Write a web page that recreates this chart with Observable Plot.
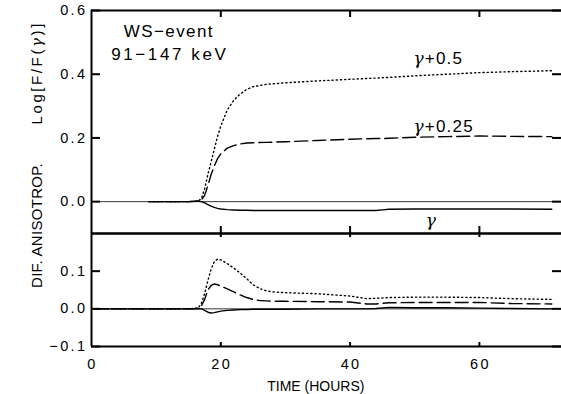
<!DOCTYPE html>
<html><head><meta charset="utf-8">
<script src="https://cdn.jsdelivr.net/npm/d3@7"></script>
<script src="https://cdn.jsdelivr.net/npm/@observablehq/plot@0.6"></script>
<style>
html,body{margin:0;padding:0;background:#fff;}
#wrap{position:relative;width:561px;height:394px;overflow:hidden;background:#fff;}
#wrap svg{position:absolute;left:0;top:0;}
</style></head><body><div id="wrap"></div>
<script>
// ---- data ----
const hoursTop     = [8.9, 12, 15, 16.5, 17, 17.5, 18, 18.5, 19, 19.5, 20, 21, 22, 23, 24, 25, 27, 30, 35, 40, 44, 45, 46, 50, 55, 60, 65, 71.2];
const fluxPlus050  = [0, 0, 0, 0.002, 0.01, 0.04, 0.085, 0.125, 0.165, 0.205, 0.237, 0.288, 0.318, 0.338, 0.352, 0.361, 0.368, 0.373, 0.379, 0.384, 0.388, 0.389, 0.39, 0.395, 0.40, 0.405, 0.408, 0.411];
const fluxPlus025  = [0, 0, 0, 0.001, 0.005, 0.02, 0.05, 0.085, 0.112, 0.135, 0.15, 0.168, 0.176, 0.181, 0.184, 0.185, 0.186, 0.188, 0.192, 0.196, 0.198, 0.198, 0.199, 0.202, 0.204, 0.206, 0.205, 0.204];
const fluxGamma    = [0, 0, 0, 0.002, 0, -0.004, -0.009, -0.014, -0.018, -0.021, -0.023, -0.025, -0.026, -0.027, -0.027, -0.028, -0.028, -0.028, -0.028, -0.028, -0.028, -0.026, -0.024, -0.023, -0.023, -0.023, -0.023, -0.024];

const hoursBottom  = [0.5, 5, 10, 15, 16.5, 17, 17.5, 18, 18.5, 19, 19.5, 20, 21, 22, 23, 24, 25, 26, 27, 28, 30, 35, 40, 42.6, 44, 46, 50, 55, 60, 65, 71.2];
const anisPlus050  = [0, 0, 0, 0, 0.002, 0.015, 0.04, 0.075, 0.105, 0.125, 0.132, 0.13, 0.12, 0.108, 0.095, 0.08, 0.064, 0.054, 0.048, 0.045, 0.043, 0.04, 0.034, 0.027, 0.028, 0.03, 0.031, 0.031, 0.03, 0.027, 0.025];
const anisPlus025  = [0, 0, 0, 0, 0.001, 0.008, 0.025, 0.05, 0.062, 0.066, 0.064, 0.06, 0.053, 0.045, 0.037, 0.03, 0.025, 0.022, 0.021, 0.02, 0.02, 0.019, 0.018, 0.013, 0.013, 0.016, 0.017, 0.017, 0.017, 0.014, 0.013];
const anisGamma    = [0, 0, 0, 0, 0.001, 0, -0.004, -0.009, -0.011, -0.010, -0.008, -0.006, -0.004, -0.003, -0.002, -0.002, -0.001, -0.001, -0.001, -0.001, -0.001, 0, 0, 0, 0.001, 0.004, 0.003, 0.003, 0.002, 0.001, 0];

const xDomain      = [0, 72.7];
const xTickValues  = [0, 20, 40, 60];
const xInnerTicks  = [20, 40, 60];
const yDomainTop   = [-0.1, 0.6];
const yTicksTop    = [0, 0.2, 0.4, 0.6];
const yDomainBot   = [-0.1, 0.2];
const yTicksBot    = [-0.1, 0, 0.1];

const titleTop     = "Log[F/F(γ)]";
const titleBottom  = "DIF. ANISOTROP.";
const titleX       = "TIME (HOURS)";
const eventLines   = ["WS−event", "91−147 keV"];
const curveLabels  = ["γ+0.5", "γ+0.25", "γ"];

// ---- layout / style constants ----
const W = 561, H = 394, ML = 91, MR = 0;
const topBox = {top: 10, bottom: 233};
const botBox = {top: 233, bottom: 346};
const frameW = W - ML - MR;
const yTickPx = 9, xTickTopPx = 7, xTickBotPx = 4;
const curveW = 1.4;
const FONT = "'Liberation Sans', Arial, sans-serif";

const toRows = (xs, ys) => xs.map((x, i) => ({x, y: ys[i]}));
const fmt = d3.format(".1f");
const common = {
  width: W, height: H, marginLeft: ML, marginRight: MR,
  style: {background: "transparent", fontFamily: FONT, fontSize: "14px", color: "#000", overflow: "visible"}
};

// inward ticks on all four sides, drawn as short rules (pixel lengths converted to data units)
function frameMarks(yDom, yTicks, xTickPx, fh) {
  const dxLen = yTickPx * (xDomain[1] - xDomain[0]) / frameW;
  const dyLen = xTickPx * (yDom[1] - yDom[0]) / fh;
  return [
    Plot.ruleY(yDom, {strokeWidth: 2}),
    Plot.ruleX([xDomain[0]], {strokeWidth: 2}),
    Plot.ruleY(yTicks, {y: d => d, x1: xDomain[0], x2: xDomain[0] + dxLen, strokeWidth: 2}),
    Plot.ruleY(yTicks, {y: d => d, x1: xDomain[1] - dxLen, x2: xDomain[1], strokeWidth: 2}),
    Plot.ruleX(xInnerTicks, {x: d => d, y1: yDom[1] - dyLen, y2: yDom[1], strokeWidth: 2}),
    Plot.ruleX(xInnerTicks, {x: d => d, y1: yDom[0], y2: yDom[0] + dyLen, strokeWidth: 2}),
    Plot.axisY(yTicks, {anchor: "left", tickSize: 0, tickPadding: 4, tickFormat: fmt, label: null, fontSize: 14.5})
  ];
}
function curveMarks(xs, a, b, c) {
  return [
    Plot.ruleY([0], {stroke: "#000", strokeWidth: 0.8}),
    Plot.line(toRows(xs, a), {x: "x", y: "y", strokeWidth: curveW, strokeDasharray: "1.2,3", strokeLinecap: "round"}),
    Plot.line(toRows(xs, b), {x: "x", y: "y", strokeWidth: curveW, strokeDasharray: "13,5"}),
    Plot.line(toRows(xs, c), {x: "x", y: "y", strokeWidth: curveW})
  ];
}

const topChart = Plot.plot({
  ...common,
  marginTop: topBox.top, marginBottom: H - topBox.bottom,
  x: {domain: xDomain, axis: null},
  y: {domain: yDomainTop, axis: null},
  marks: [
    ...curveMarks(hoursTop, fluxPlus050, fluxPlus025, fluxGamma),
    ...frameMarks(yDomainTop, yTicksTop, xTickTopPx, topBox.bottom - topBox.top),
    Plot.text([titleTop], {frameAnchor: "left", dx: -54, dy: 2.5, rotate: -90, fontSize: 15}),
    Plot.text([eventLines[0]], {x: 5.0, y: 0.518, textAnchor: "start", lineAnchor: "bottom", fontSize: 17}),
    Plot.text([eventLines[1]], {x: 3.05, y: 0.445, textAnchor: "start", lineAnchor: "bottom", fontSize: 17}),
    Plot.text([curveLabels[0]], {x: 49.8, y: 0.432, textAnchor: "start", lineAnchor: "bottom", fontSize: 17}),
    Plot.text([curveLabels[1]], {x: 49.8, y: 0.220, textAnchor: "start", lineAnchor: "bottom", fontSize: 17}),
    Plot.text([curveLabels[2]], {x: 52.5, y: -0.075, textAnchor: "middle", lineAnchor: "bottom", fontSize: 17})
  ]
});

const bottomChart = Plot.plot({
  ...common,
  marginTop: botBox.top, marginBottom: H - botBox.bottom,
  x: {domain: xDomain, axis: null},
  y: {domain: yDomainBot, axis: null},
  marks: [
    ...curveMarks(hoursBottom, anisPlus050, anisPlus025, anisGamma),
    ...frameMarks(yDomainBot, yTicksBot, xTickBotPx, botBox.bottom - botBox.top),
    Plot.axisX(xTickValues, {anchor: "bottom", tickSize: 0, tickPadding: 12, dx: 1, tickFormat: d => String(d), label: null, fontSize: 14.5}),
    Plot.text([titleBottom], {frameAnchor: "left", dx: -54, dy: -2, rotate: -90, fontSize: 15}),
    Plot.text([titleX], {x: 34.7, frameAnchor: "bottom", dy: 44, lineAnchor: "bottom", fontSize: 14})
  ]
});

// letter spacing (Hershey-like wide glyph spacing) and italic gamma
const spacing = new Map([
  [titleTop, 2.6], [titleBottom, 0.3], [titleX, 0],
  [eventLines[0], 1.4], [eventLines[1], 2.6],
  [curveLabels[0], 1.2], [curveLabels[1], 1.2], [curveLabels[2], 0]
]);
function finish(svg) {
  svg.querySelectorAll("text").forEach(t => {
    const s = t.textContent;
    const isTick = t.closest('g[aria-label$="tick label"]');
    const ls = isTick ? 2.4 : (spacing.get(s) ?? 0);
    if (ls) t.setAttribute("letter-spacing", ls);
    if (s.includes("γ")) {
      t.textContent = "";
      s.split(/(γ)/).filter(Boolean).forEach(part => {
        const ts = document.createElementNS("http://www.w3.org/2000/svg", "tspan");
        ts.textContent = part;
        if (part === "γ") { ts.setAttribute("font-family", "'DejaVu Serif'"); ts.setAttribute("font-style", "italic"); }
        t.appendChild(ts);
      });
    }
  });
  return svg;
}

const wrap = document.getElementById("wrap");
wrap.appendChild(finish(topChart));
wrap.appendChild(finish(bottomChart));
</script>
</body></html>
